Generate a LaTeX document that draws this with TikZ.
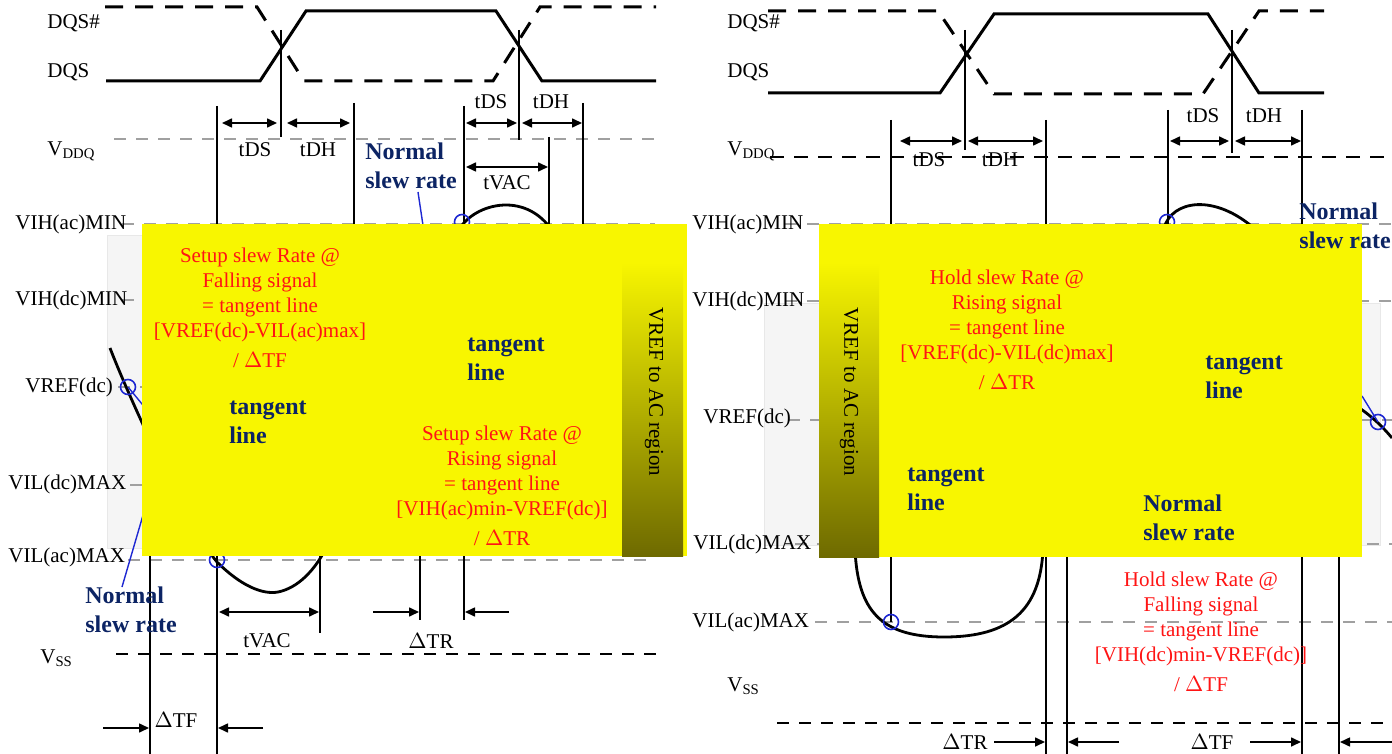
\documentclass[tikz,border=0pt]{standalone}
\usepackage{fontspec}
\setmainfont{Liberation Serif}
\usetikzlibrary{arrows.meta}
\definecolor{navy}{RGB}{12,36,100}
\definecolor{ylw}{RGB}{248,246,0}
\definecolor{olv}{RGB}{110,106,0}
\definecolor{refgray}{RGB}{160,160,160}
\definecolor{bggray}{RGB}{245,245,245}
\definecolor{redtxt}{RGB}{255,20,20}
\definecolor{tanblue}{RGB}{30,40,210}
\begin{document}
\begin{tikzpicture}[x=0.5pt,y=-0.5pt,
 lbl/.style={font=\fontsize{10.5}{12}\selectfont, inner sep=0pt, anchor=west},
 tlbl/.style={font=\fontsize{10.5}{12}\selectfont, inner sep=0pt},
 bluetxt/.style={font=\fontsize{12}{14.5}\selectfont\bfseries, text=navy, align=left, inner sep=0pt, anchor=west},
 redblk/.style={font=\fontsize{10.5}{12.5}\selectfont, text=redtxt, align=center, inner sep=0pt},
 striptxt/.style={font=\fontsize{10.5}{12}\selectfont, rotate=-90, inner sep=0pt},
 sig/.style={line width=1.5pt, line join=miter},
 sigd/.style={sig, dash pattern=on 9pt off 6pt},
 vl/.style={line width=0.75pt},
 refl/.style={refgray, line width=1pt, dash pattern=on 6pt off 5pt},
 blkd/.style={black, line width=0.6pt, dash pattern=on 6pt off 5pt},
 sigcurve/.style={line width=1.4pt},
 tanline/.style={tanblue, line width=0.7pt},
 ring/.style={draw=tanblue, line width=0.8pt, circle, minimum size=7.5pt, inner sep=0pt},
 dimarr/.style={line width=0.8pt, {Triangle[length=5pt,width=4.5pt]}-{Triangle[length=5pt,width=4.5pt]}},
 ptarr/.style={line width=0.8pt, -{Triangle[length=5pt,width=4.5pt]}}
]
\fill[white] (0,0) rectangle (1392,754);
\useasboundingbox (0,0) rectangle (1392,754);

% ================= LEFT DIAGRAM =================
\fill[bggray, draw=gray!18] (107,235) rectangle (680,548);
% reference levels
\draw[refl] (114,139) -- (654,139);
\draw[refl] (122,224) -- (655,224);
\draw[refl] (122,300) -- (655,300);
\draw[refl] (118,387) -- (655,387);
\draw[refl] (130,485) -- (655,485);
\draw[refl] (128,560) -- (655,560);
\draw[blkd] (116,654) -- (658,654);
% signals
\draw[sigd] (105,7) -- (257,7) -- (304,81) -- (493,81) -- (540,7) -- (656,7);
\draw[sig] (106,81) -- (260,81) -- (306,11) -- (496,11) -- (542,81) -- (656,81);
% vertical timing lines
\draw[vl] (281,30) -- (281,137);
\draw[vl] (519,30) -- (519,140);
\draw[vl] (217,106) -- (217,754);
\draw[vl] (354,103) -- (354,300);
\draw[vl] (464,106) -- (464,620);
\draw[vl] (549,137) -- (549,300);
\draw[vl] (583,103) -- (583,300);
\draw[vl] (150,545) -- (150,754);
\draw[vl] (320,540) -- (320,633);
\draw[vl] (420,540) -- (420,620);
% dimension arrows
\draw[dimarr] (222,123) -- (277,123);
\draw[dimarr] (287,123) -- (350,123);
\draw[dimarr] (466,123) -- (517,123);
\draw[dimarr] (522,123) -- (582,123);
\draw[dimarr] (466,167) -- (548,167);
\draw[dimarr] (219,612) -- (319,612);
\draw[ptarr] (373,612) -- (419,612);
\draw[ptarr] (509,612) -- (465,612);
\draw[ptarr] (103,728) -- (149,728);
\draw[ptarr] (263,728) -- (218,728);
% curves
\draw[sigcurve] (110,348) .. controls (130,400) and (190,530) .. (217,562)
  .. controls (240,585) and (262,595) .. (278,592) .. controls (298,588) and (315,570) .. (326,548);
\draw[sigcurve] (458,232) .. controls (470,205) and (525,188) .. (553,232);
\draw[tanline] (128,387) -- (180,450);
\draw[tanline] (122,587) -- (146,505);
\draw[tanline] (418,192) -- (424,232);
\node[ring] (cL1) at (128,387) {};
\node[ring] (cL2) at (217,560) {};
\node[ring] (cL3) at (462,222) {};
% labels
\node[lbl] (lDQSn) at (47,23) {DQS\#};
\node[lbl] (lDQS) at (47,72) {DQS};
\node[lbl] (lVDDQ) at (47,151) {V\textsubscript{DDQ}};
\node[lbl] (lVIHac) at (15,224) {VIH(ac)MIN};
\node[lbl] (lVIHdc) at (15,300) {VIH(dc)MIN};
\node[lbl] (lVREF) at (25,387) {VREF(dc)};
\node[lbl] (lVILdc) at (8,484) {VIL(dc)MAX};
\node[lbl] (lVILac) at (8,557) {VIL(ac)MAX};
\node[lbl] (lVSS) at (40,658) {V\textsubscript{SS}};
\node[tlbl] (tDSa) at (255,150) {tDS};
\node[tlbl] (tDHa) at (318,150) {tDH};
\node[tlbl] (tDSb) at (491,102) {tDS};
\node[tlbl] (tDHb) at (551,102) {tDH};
\node[tlbl] (tVACa) at (507,183) {tVAC};
\node[tlbl] (tVACb) at (267,641) {tVAC};
\node[tlbl] (dTRa) at (431,641) {$\Delta$TR};
\node[tlbl] (dTFa) at (176,720) {$\Delta$TF};
\node[bluetxt] (nsrL1) at (365,166) {Normal\\slew rate};
\node[bluetxt] (nsrL2) at (85,610) {Normal\\slew rate};

% ================= RIGHT DIAGRAM =================
\fill[bggray, draw=gray!18] (764,303) rectangle (1380,545);
\draw[blkd, dash pattern=on 7pt off 5pt] (770,157) -- (1392,157);
\draw[refl] (785,224) -- (1392,224);
\draw[refl] (785,301) -- (1392,301);
\draw[refl] (788,420) -- (1392,420);
\draw[refl] (795,544) -- (1392,544);
\draw[refl] (815,622) -- (1392,622);
\draw[blkd] (777,723) -- (1392,723);
\draw[sigd] (768,11) -- (938,11) -- (994,94) -- (1203,94) -- (1259,11) -- (1324,11);
\draw[sig] (768,93) -- (940,93) -- (994,14) -- (1208,14) -- (1259,93) -- (1324,93);
\draw[vl] (965,30) -- (965,150);
\draw[vl] (1232,30) -- (1232,153);
\draw[vl] (891,120) -- (891,622);
\draw[vl] (1046,120) -- (1046,754);
\draw[vl] (1067,540) -- (1067,754);
\draw[vl] (1168,110) -- (1168,300);
\draw[vl] (1302,110) -- (1302,754);
\draw[vl] (1339,540) -- (1339,754);
\draw[dimarr] (900,141) -- (962,141);
\draw[dimarr] (968,141) -- (1043,141);
\draw[dimarr] (1170,141) -- (1229,141);
\draw[dimarr] (1235,141) -- (1301,141);
\draw[ptarr] (994,742) -- (1045,742);
\draw[ptarr] (1119,742) -- (1068,742);
\draw[ptarr] (1250,742) -- (1301,742);
\draw[ptarr] (1392,742) -- (1340,742);
\draw[sigcurve] (1164,228) .. controls (1172,200) and (1215,193) .. (1256,230);
\draw[sigcurve] (855,550) .. controls (858,610) and (880,637) .. (944,637)
  .. controls (1010,637) and (1040,610) .. (1043,550);
\draw[sigcurve] (1350,402) .. controls (1370,414) and (1382,426) .. (1392,438);
\draw[tanline] (1362,396) -- (1378,422);
\node[ring] (cR1) at (1167,222) {};
\node[ring] (cR2) at (891,622) {};
\node[ring] (cR3) at (1378,422) {};
\node[lbl] (rDQSn) at (727,23) {DQS\#};
\node[lbl] (rDQS) at (727,72) {DQS};
\node[lbl] (rVDDQ) at (727,151) {V\textsubscript{DDQ}};
\node[lbl] (rVIHac) at (692,224) {VIH(ac)MIN};
\node[lbl] (rVIHdc) at (692,301) {VIH(dc)MIN};
\node[lbl] (rVREF) at (703,418) {VREF(dc)};
\node[lbl] (rVILdc) at (693,544) {VIL(dc)MAX};
\node[lbl] (rVILac) at (692,622) {VIL(ac)MAX};
\node[lbl] (rVSS) at (727,686) {V\textsubscript{SS}};
\node[tlbl] (tDSc) at (929,160) {tDS};
\node[tlbl] (tDHc) at (1000,160) {tDH};
\node[tlbl] (tDSd) at (1203,116) {tDS};
\node[tlbl] (tDHd) at (1264,116) {tDH};
\node[tlbl] (dTRb) at (965,742) {$\Delta$TR};
\node[tlbl] (dTFb) at (1212,742) {$\Delta$TF};
\node[redblk] (holdF) at (1201,632) {Hold slew Rate @\\Falling signal\\= tangent line\\{[}VIH(dc)min-VREF(dc){]}\\[2.5pt]/ $\Delta$TF};

% ================= YELLOW OVERLAYS =================
\fill[ylw] (142,224) rectangle (687,556);
\fill[ylw] (622,224) rectangle (683,262);
\shade[top color=ylw, bottom color=olv] (622,262) rectangle (683,556);
\node[striptxt] (stripL) at (654,392) {VREF to AC region};
\fill[ylw] (819,224) rectangle (1362,557);
\fill[ylw] (819,224) rectangle (879,262);
\shade[top color=ylw, bottom color=olv] (819,262) rectangle (879,557);
\node[striptxt] (stripR) at (849,392) {VREF to AC region};

\node[redblk] (setupF) at (260,308) {Setup slew Rate @\\Falling signal\\= tangent line\\{[}VREF(dc)-VIL(ac)max{]}\\[2.5pt]/ $\Delta$TF};
\node[redblk] (setupR) at (502,486) {Setup slew Rate @\\Rising signal\\= tangent line\\{[}VIH(ac)min-VREF(dc){]}\\[2.5pt]/ $\Delta$TR};
\node[bluetxt] (tanL1) at (229,422) {tangent\\line};
\node[bluetxt] (tanL2) at (467,359) {tangent\\line};
\node[redblk] (holdR) at (1007,330) {Hold slew Rate @\\Rising signal\\= tangent line\\{[}VREF(dc)-VIL(dc)max{]}\\[2.5pt]/ $\Delta$TR};
\node[bluetxt] (tanR1) at (1205,377) {tangent\\line};
\node[bluetxt] (tanR2) at (907,489) {tangent\\line};
\node[bluetxt] (nsrR1) at (1143,518) {Normal\\slew rate};
\node[bluetxt] (nsrR2) at (1299,226) {Normal\\slew rate};
\end{tikzpicture}
\end{document}
